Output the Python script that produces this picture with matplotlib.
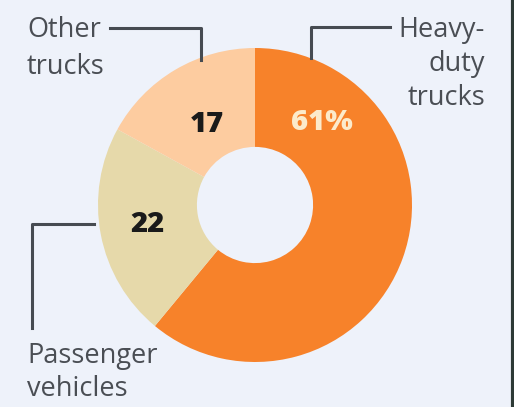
import matplotlib.pyplot as plt

labels = [['Heavy-', 'duty', 'trucks'], ['Passenger', 'vehicles'], ['Other', 'trucks']]
shares = [61, 22, 17]
value_text = ['61%', '22', '17']
colors = ['#F7822A', '#E6D9AA', '#FDCCA0']
value_colors = ['#FCEBCB', '#1a1a1a', '#1a1a1a']

W, H = 514, 407
fig = plt.figure(figsize=(W / 100, H / 100), dpi=100)
fig.patch.set_facecolor('#EEF2FA')
ax = fig.add_axes([0, 0, 1, 1])

cx, cy, r = 255, H - 205, 157
wedges, _ = ax.pie(shares, colors=colors, startangle=90, counterclock=False,
                   center=(cx, cy), radius=r, frame=True,
                   wedgeprops=dict(width=r * 0.63, linewidth=0))
ax.set_xlim(0, W)
ax.set_ylim(0, H)
ax.set_aspect('equal')
ax.axis('off')

font = 'Open Sans'
value_pos = [(322, 122), (147, 224), (207, 124)]
for (x, y), t, c in zip(value_pos, value_text, value_colors):
    ax.text(x, H - y, t, ha='center', va='center', fontsize=21,
            fontweight='heavy', color=c, family=font)

lab_col = '#4a4e54'
line_col = '#464b51'


def put_label(lines, x, baselines, ha):
    for s, b in zip(lines, baselines):
        ax.text(x, H - b, s, ha=ha, va='baseline', fontsize=19.5,
                color=lab_col, family=font)


# Heavy-duty trucks
put_label(labels[0], 485, [37, 71, 105], 'right')
ax.plot([390, 311, 311], [H - 27, H - 27, H - 58], color=line_col, lw=2.2)
# Other trucks
put_label(labels[2], 27, [37, 74], 'left')
ax.plot([110, 201, 201], [H - 28, H - 28, H - 60], color=line_col, lw=2.2)
# Passenger vehicles
put_label(labels[1], 27, [363, 396], 'left')
ax.plot([94, 32, 32], [H - 224, H - 224, H - 328], color=line_col, lw=2.2)

ax.plot([W - 1.5, W - 1.5], [0, H], color='#2d3a36', lw=3)

fig.savefig('out.png', dpi=100, facecolor=fig.get_facecolor())
